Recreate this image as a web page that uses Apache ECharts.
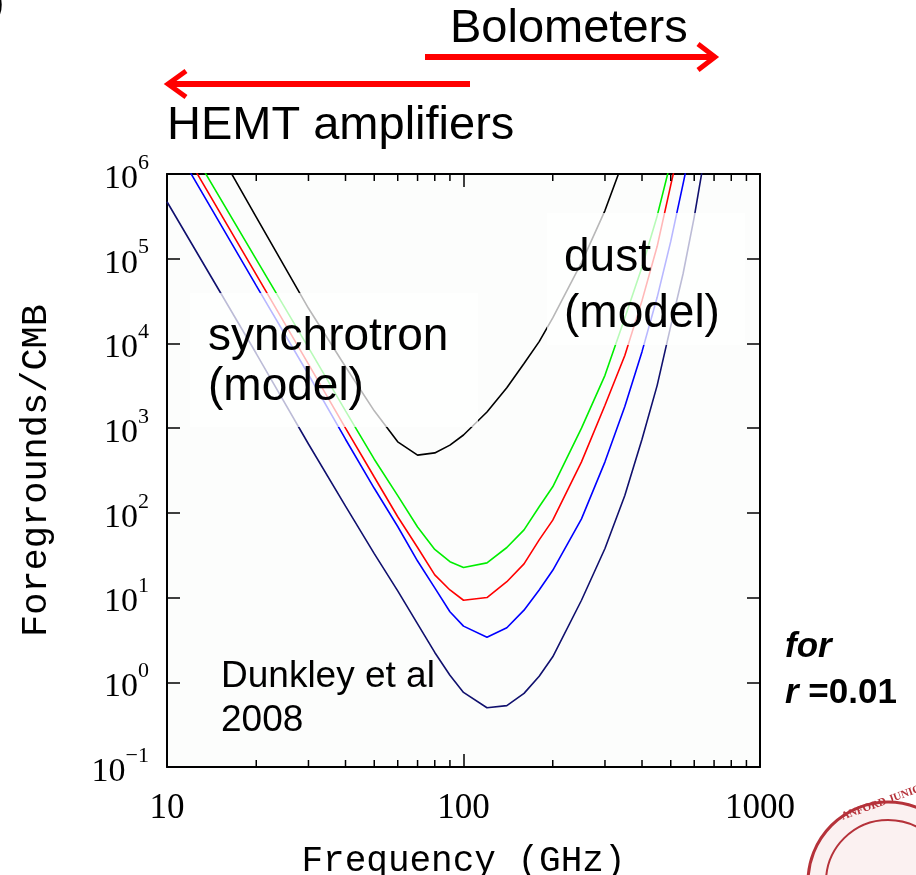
<!DOCTYPE html>
<html>
<head>
<meta charset="utf-8">
<script src="https://cdn.jsdelivr.net/npm/echarts@6/dist/echarts.min.js"></script>
<style>
  html, body { margin: 0; padding: 0; background: #fff; }
  #chart { width: 916px; height: 875px; }
</style>
</head>
<body>
<div id="chart"></div>
<script>
// frequency grid (GHz)
const freqs = [10, 20, 30, 40, 50, 60, 70, 80, 90, 100, 120, 140, 160, 180, 200,
  250, 300, 350, 400, 450, 500, 550, 600, 650];

// foregrounds / CMB
const blackCurve = [2.2e7, 3.1e5, 2.6e4, 5300, 1600, 690, 480, 510, 630, 830, 1550, 3000, 5800, 10500, 20000,
  90000, 3.7e5, 1.6e6, null, null, null, null, null, null];
const greenCurve = [6e6, 9.8e4, 8900, 1600, 430, 160, 68, 37, 26.5, 22.7, 25.7, 39, 63, 118, 203,
  1000, 4200, 2e4, 8e4, 3.2e5, 1.4e6, null, null, null];
const redCurve = [4.1e6, 6.5e4, 5700, 1000, 265, 90, 39, 18.5, 12.3, 9.3, 10, 15.4, 25, 48, 82,
  400, 1860, 7200, 3.2e4, 1.4e5, 7.4e5, 3.2e6, null, null];
const blueCurve = [3.1e6, 4.8e4, 4300, 740, 195, 69, 27, 13, 6.8, 4.6, 3.4, 4.4, 7.1, 12.3, 21,
  85, 400, 1800, 8000, 3.5e4, 1.6e5, 7.6e5, 3.2e6, null];
const navyCurve = [4.7e5, 7600, 650, 120, 33, 12, 4.9, 2.25, 1.21, 0.76, 0.5, 0.53, 0.74, 1.18, 2.0,
  9.3, 38, 160, 740, 3200, 1.6e4, 6.6e4, 3.1e5, 1.6e6];

const minorFreqs = [20, 30, 40, 50, 60, 70, 80, 90, 200, 300, 400, 500, 600, 700, 800, 900];

const serif = 'Liberation Serif';
const mono = 'Liberation Mono';

function pairs(vals) {
  return freqs.map((f, i) => [f, vals[i]]);
}

function curve(name, vals, color) {
  return {
    name: name,
    type: 'line',
    data: pairs(vals),
    showSymbol: false,
    silent: true,
    clip: true,
    lineStyle: { color: color, width: 1.6 },
    z: 3
  };
}

function expLabel(v) {
  const e = Math.round(Math.log10(v));
  return '{b|10}{s|' + (e < 0 ? '\u2212' + (-e) : e) + '}';
}

const chart = echarts.init(document.getElementById('chart'));

const option = {
  backgroundColor: '#ffffff',
  animation: false,
  grid: {
    left: 167, top: 174, right: 156, bottom: 108,
    outerBoundsMode: 'none', containLabel: false,
    show: true, backgroundColor: '#fcfdfc', borderWidth: 0
  },
  xAxis: [
    {
      type: 'log', logBase: 10, min: 10, max: 1000, interval: 1,
      name: 'Frequency (GHz)', nameLocation: 'middle', nameGap: 76,
      nameTextStyle: { fontFamily: mono, fontSize: 36, color: '#000' },
      axisLine: { lineStyle: { color: '#000', width: 2 } },
      axisTick: { inside: true, length: 13, lineStyle: { color: '#000', width: 1.5 } },
      axisLabel: { fontFamily: serif, fontSize: 35, color: '#000', margin: 24, formatter: v => String(Math.round(v)) },
      splitLine: { show: false }
    },
    {
      type: 'log', logBase: 10, min: 10, max: 1000, interval: 1, position: 'top',
      axisLine: { lineStyle: { color: '#000', width: 2 } },
      axisTick: { inside: true, length: 13, lineStyle: { color: '#000', width: 1.5 } },
      axisLabel: { show: false },
      splitLine: { show: false }
    }
  ],
  yAxis: [
    {
      type: 'log', logBase: 10, min: 0.1, max: 1e6, interval: 1,
      name: 'Foregrounds/CMB', nameLocation: 'middle', nameGap: 112, nameRotate: 90,
      nameTextStyle: { fontFamily: mono, fontSize: 37, color: '#000' },
      axisLine: { lineStyle: { color: '#000', width: 2 } },
      axisTick: { inside: true, length: 13, lineStyle: { color: '#000', width: 1.5 } },
      axisLabel: {
        formatter: expLabel, margin: 18,
        rich: {
          b: { fontFamily: serif, fontSize: 34, color: '#000', lineHeight: 44, verticalAlign: 'bottom' },
          s: { fontFamily: serif, fontSize: 22, color: '#000', lineHeight: 44, verticalAlign: 'top' }
        }
      },
      splitLine: { show: false }
    },
    {
      type: 'log', logBase: 10, min: 0.1, max: 1e6, interval: 1, position: 'right',
      axisLine: { lineStyle: { color: '#000', width: 2 } },
      axisTick: { inside: true, length: 13, lineStyle: { color: '#000', width: 1.5 } },
      axisLabel: { show: false },
      splitLine: { show: false }
    }
  ],
  series: [
    curve('total', blackCurve, '#000000'),
    curve('green', greenCurve, '#00ee00'),
    curve('red', redCurve, '#ff0000'),
    curve('blue', blueCurve, '#0000ff'),
    curve('navy', navyCurve, '#10106e'),
    {
      // minor ticks on the log frequency axis, bottom and top
      type: 'custom',
      silent: true,
      clip: false,
      data: minorFreqs.map(f => [f, 1]),
      renderItem: function (params, api) {
        const b = api.coord([api.value(0), 0.1]);
        const t = api.coord([api.value(0), 1e6]);
        return {
          type: 'group',
          children: [
            { type: 'line', shape: { x1: b[0], y1: b[1], x2: b[0], y2: b[1] - 7 }, style: { stroke: '#000', lineWidth: 1.5 } },
            { type: 'line', shape: { x1: t[0], y1: t[1], x2: t[0], y2: t[1] + 7 }, style: { stroke: '#000', lineWidth: 1.5 } }
          ]
        };
      },
      z: 5
    }
  ],
  graphic: {
    elements: [
      // faded boxes behind the model labels
      { type: 'rect', z: 100, shape: { x: 190, y: 293, width: 288, height: 134 }, style: { fill: 'rgba(255,255,255,0.72)' } },
      { type: 'rect', z: 100, shape: { x: 547, y: 213, width: 198, height: 132 }, style: { fill: 'rgba(255,255,255,0.72)' } },
      { type: 'text', z: 101, x: 208, y: 312, style: { text: 'synchrotron\n(model)', font: '46px "Liberation Sans"', fill: '#000', lineHeight: 50 } },
      { type: 'text', z: 101, x: 564, y: 230, style: { text: 'dust\n(model)', font: '46px "Liberation Sans"', fill: '#000', lineHeight: 56 } },
      { type: 'text', z: 101, x: 221, y: 655, style: { text: 'Dunkley et al\n2008', font: '37px "Liberation Sans"', fill: '#000', lineHeight: 44 } },
      // top annotations
      { type: 'text', z: 101, x: 450, y: 6, style: { text: 'Bolometers', font: '47px "Liberation Sans"', fill: '#000' } },
      { type: 'text', z: 101, x: 167, y: 103, style: { text: 'HEMT amplifiers', font: '47px "Liberation Sans"', fill: '#000' } },
      { type: 'line', z: 101, shape: { x1: 425, y1: 57, x2: 714, y2: 57 }, style: { stroke: '#ff0000', lineWidth: 6 } },
      { type: 'polyline', z: 101, shape: { points: [[698, 44], [715, 57], [698, 70]] }, style: { stroke: '#ff0000', lineWidth: 5, fill: null } },
      { type: 'line', z: 101, shape: { x1: 470, y1: 84, x2: 169, y2: 84 }, style: { stroke: '#ff0000', lineWidth: 6 } },
      { type: 'polyline', z: 101, shape: { points: [[186, 71], [168, 84], [186, 97]] }, style: { stroke: '#ff0000', lineWidth: 5, fill: null } },
      // side note
      {
        type: 'text', z: 101, x: 785, y: 624,
        style: {
          text: '{i|for}\n{i|r }{n|=0.01}',
          rich: {
            i: { font: 'italic bold 35px "Liberation Sans"', fill: '#000', lineHeight: 46 },
            n: { font: 'bold 35px "Liberation Sans"', fill: '#000', lineHeight: 46 }
          }
        }
      },
      { type: 'text', z: 101, x: -8, y: -14, style: { text: ')', font: '36px "Liberation Sans"', fill: '#000' } },
      // seal in the corner
      { type: 'circle', z: 101, shape: { cx: 888, cy: 882, r: 80 }, style: { fill: '#fbf1f1', stroke: '#b5323a', lineWidth: 3 } },
      { type: 'circle', z: 101, shape: { cx: 888, cy: 882, r: 62 }, style: { fill: 'none', stroke: '#b5323a', lineWidth: 2 } },
      { type: 'text', z: 102, x: 840, y: 812, rotation: 0.35, style: { text: 'ANFORD JUNIOR U', font: 'bold 11px "Liberation Serif"', fill: '#b5323a' } }
    ]
  }
};

chart.setOption(option);
</script>
</body>
</html>
